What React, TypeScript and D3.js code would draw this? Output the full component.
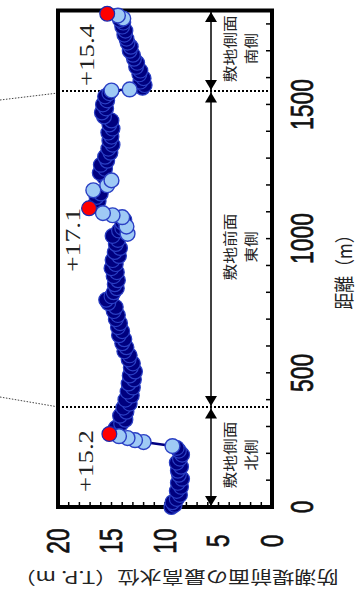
import React from 'react';
import * as d3 from 'd3';

const W = 356;
const H = 595;

// Distance along the seawall (m) and max water level (T.P. m) – main (navy) markers
const navyDist = [
  0, 8, 18, 30, 45, 60, 75, 90, 105, 120, 135, 150, 165, 180, 195, 210, 220,
  282, 295, 310, 325, 340, 355, 370, 385, 400, 415, 430, 445, 460, 475, 490, 505, 520, 535, 550,
  565, 580, 595, 610, 625, 640, 655, 670, 685, 700, 715, 730, 745, 760, 772, 785, 800, 815, 830,
  845, 860, 875, 890, 905, 920, 935, 950, 965, 980, 995, 1010, 1030, 1040, 1060, 1070,
  1125, 1140, 1155, 1168, 1230, 1245, 1260, 1275, 1290, 1305, 1320, 1335, 1350, 1365, 1380, 1395,
  1410, 1425, 1440, 1455, 1470, 1485, 1500, 1515, 1530, 1542,
  1562, 1572, 1585, 1598, 1612, 1626, 1640, 1655, 1670, 1685, 1700, 1715, 1730, 1745, 1760, 1775,
  1790, 1805, 1815,
];
const navyLevel = [
  9.4, 9.1, 9.3, 8.9, 8.6, 8.9, 8.5, 8.8, 8.4, 8.7, 8.8, 8.5, 8.9, 8.6, 8.4, 8.7, 8.9,
  14.8, 14.6, 14.1, 13.7, 14.2, 13.6, 13.9, 13.3, 13.7, 13.1, 13.5, 13.0, 13.4, 12.9, 13.3, 12.8, 13.2, 13.0, 13.4,
  13.3, 13.8, 13.6, 14.0, 13.8, 14.3, 14.0, 14.4, 14.2, 14.6, 14.4, 14.8, 14.6, 15.3, 15.5, 15.0, 14.8, 14.5, 14.7,
  14.4, 14.8, 14.5, 15.0, 14.6, 14.9, 14.3, 14.7, 14.2, 14.6, 14.4, 14.9, 14.3, 14.0, 14.0, 13.8,
  16.6, 16.2, 16.4, 16.0, 15.7, 16.1, 15.6, 16.0, 15.4, 15.6, 15.1, 15.3, 14.9, 15.2, 15.0, 15.3,
  14.9, 15.2, 15.0, 15.7, 15.9, 15.5, 15.8, 15.4, 15.6, 15.2,
  12.1, 11.9, 12.3, 12.0, 12.4, 12.3, 12.7, 12.6, 12.9, 13.0, 13.3, 13.2, 13.5, 13.6, 13.8, 13.7,
  14.0, 13.9, 14.2,
];

// Light-blue markers
const lightDist = [227, 242, 249, 257, 264, 1018, 1045, 1080, 1087, 1095, 1180, 1199, 1217, 1552, 1556, 1820, 1831];
const lightLevel = [9.3, 12.0, 12.8, 13.5, 14.3, 13.5, 13.6, 14.0, 14.9, 15.8, 16.7, 15.4, 15.0, 15.0, 13.3, 13.9, 14.4];

// Maximum points (red)
const maxDist = [272, 1113, 1838];
const maxLevel = [15.2, 17.1, 15.4];
const maxLabels = ['+15.2', '+17.1', '+15.4'];

// Zones
const zoneBounds = [0, 373, 1550, 1850];
const zoneLine1 = ['敷地側面', '敷地前面', '敷地側面'];
const zoneLine2 = ['北側', '東側', '南側'];

// Axes
const distTicks = [0, 500, 1000, 1500];
const distMinor = d3.range(100, 1900, 100);
const levelTicks = [0, 5, 10, 15, 20];
const levelMinor = d3.range(1, 20, 1);

export default function App() {
  const y = d3.scaleLinear().domain([0, 1850]).range([507, 10.5]);
  const x = d3.scaleLinear().domain([0, 20]).range([272, 58]);

  type P = { d: number; v: number; k: string };
  const pts: P[] = [
    ...navyDist.map((d, i) => ({ d, v: navyLevel[i], k: 'n' })),
    ...lightDist.map((d, i) => ({ d, v: lightLevel[i], k: 'l' })),
    ...maxDist.map((d, i) => ({ d, v: maxLevel[i], k: 'r' })),
  ].sort((a, b) => a.d - b.d);

  const line = d3
    .line<P>()
    .x((p) => x(p.v))
    .y((p) => y(p.d));

  const fL = x(20);
  const fR = x(0);
  const fT = y(1850);
  const fB = y(0);
  const arrowX = 211;
  const R = 7.4;

  const labelPos = [
    { x: 86, y: 461, len: 62 },
    { x: 73, y: 240, len: 64 },
    { x: 87, y: 55, len: 62 },
  ];

  const arrowHead = (tipY: number, dir: number) => {
    const base = tipY - dir * 10;
    return `M${arrowX},${tipY} L${arrowX - 6},${base} L${arrowX + 6},${base} Z`;
  };

  const numFont = 'Liberation Sans, Arial, sans-serif';
  const cjk = 'Noto Sans CJK JP, sans-serif';

  return (
    <svg
      width={W}
      height={H}
      viewBox={`0 0 ${W} ${H}`}
      style={{ position: 'absolute', left: 0, top: 0, background: '#fff' }}
    >
      <rect x={0} y={0} width={W} height={H} fill="#fff" />

      {/* connector dotted lines to outside */}
      <line x1={0} y1={100} x2={fL} y2={y(1550) + 2} stroke="#444" strokeWidth={1} strokeDasharray="1.5,1.5" />
      <line x1={0} y1={397} x2={fL} y2={y(373)} stroke="#444" strokeWidth={1} strokeDasharray="1.5,1.5" />

      {/* zone boundaries */}
      {zoneBounds.slice(1, 3).map((b) => (
        <line key={b} x1={fL} x2={fR} y1={y(b)} y2={y(b)} stroke="#000" strokeWidth={2} strokeDasharray="2,2" />
      ))}

      {/* arrows */}
      <line x1={arrowX} x2={arrowX} y1={fT} y2={fB} stroke="#000" strokeWidth={1.5} />
      {zoneBounds.slice(0, 3).map((b, i) => {
        const lo = y(b);
        const hi = y(zoneBounds[i + 1]);
        return (
          <g key={'a' + i}>
            <path d={arrowHead(lo - 1, 1)} fill="#000" />
            <path d={arrowHead(hi + 1.5, -1)} fill="#000" />
          </g>
        );
      })}

      {/* zone labels */}
      {zoneLine1.map((t, i) => {
        const cy = (y(zoneBounds[i]) + y(zoneBounds[i + 1])) / 2 - 2;
        return (
          <g key={'z' + i} fontFamily={cjk} fill="#222">
            <text
              transform={`translate(228.5,${cy}) rotate(-90)`}
              textAnchor="middle"
              dominantBaseline="central"
              fontSize={14}
              textLength={67}
              lengthAdjust="spacingAndGlyphs"
            >
              {t}
            </text>
            <text
              transform={`translate(250,${cy}) rotate(-90)`}
              textAnchor="middle"
              dominantBaseline="central"
              fontSize={14}
              textLength={31}
              lengthAdjust="spacingAndGlyphs"
            >
              {zoneLine2[i]}
            </text>
          </g>
        );
      })}

      {/* ticks */}
      {distMinor.map((t) => (
        <line key={'dt' + t} x1={fR} x2={fR - 6} y1={y(t)} y2={y(t)} stroke="#000" strokeWidth={1.5} />
      ))}
      {levelMinor.map((t) => (
        <line key={'lt' + t} x1={x(t)} x2={x(t)} y1={fB} y2={fB - 5} stroke="#000" strokeWidth={1.5} />
      ))}

      {/* frame */}
      <rect x={fL} y={fT} width={fR - fL} height={fB - fT} fill="none" stroke="#000" strokeWidth={4} />

      {/* series line */}
      <path d={line(pts) || ''} fill="none" stroke="#000080" strokeWidth={2.5} />

      {/* markers */}
      {pts
        .filter((p) => p.k === 'n')
        .map((p, i) => (
          <circle key={'n' + i} cx={x(p.v)} cy={y(p.d)} r={R} fill="#00007f" stroke="#2a3fc4" strokeWidth={1.2} />
        ))}
      {pts
        .filter((p) => p.k === 'l')
        .map((p, i) => (
          <circle key={'l' + i} cx={x(p.v)} cy={y(p.d)} r={R} fill="#9fcaf5" stroke="#2a3fc4" strokeWidth={1.4} />
        ))}
      {pts
        .filter((p) => p.k === 'r')
        .map((p, i) => (
          <circle key={'r' + i} cx={x(p.v)} cy={y(p.d)} r={R} fill="#ff0000" stroke="#1a2ab0" strokeWidth={1.2} />
        ))}

      {/* max labels */}
      {maxLabels.map((t, i) => (
        <text
          key={'m' + i}
          transform={`translate(${labelPos[i].x},${labelPos[i].y}) rotate(-90)`}
          textAnchor="middle"
          dominantBaseline="central"
          fontFamily="Liberation Serif, DejaVu Serif, serif"
          fontSize={21}
          textLength={labelPos[i].len}
          lengthAdjust="spacingAndGlyphs"
          fill="#222"
        >
          {t}
        </text>
      ))}

      {/* distance tick labels */}
      {distTicks.map((t) => (
        <text
          key={'dl' + t}
          transform={`translate(302,${y(t)}) rotate(-90) scale(0.74,1)`}
          textAnchor="middle"
          dominantBaseline="central"
          fontSize={31}
          fontFamily={numFont}
          fill="#111"
          stroke="#111"
          strokeWidth={0.7}
        >
          {t}
        </text>
      ))}

      {/* level tick labels */}
      {levelTicks.map((t) => (
        <text
          key={'ll' + t}
          transform={`translate(${x(t)},541) rotate(-90) scale(0.74,1)`}
          textAnchor="middle"
          dominantBaseline="central"
          fontSize={31}
          fontFamily={numFont}
          fill="#111"
          stroke="#111"
          strokeWidth={0.7}
        >
          {t}
        </text>
      ))}

      {/* axis titles */}
      <text
        transform={`translate(343,268) rotate(-90)`}
        textAnchor="middle"
        dominantBaseline="central"
        fontFamily={cjk}
        fontSize={20}
        textLength={83}
        lengthAdjust="spacingAndGlyphs"
        fill="#222"
      >
        距離（m）
      </text>
      <text
        transform={`translate(176,578) rotate(180)`}
        textAnchor="middle"
        dominantBaseline="central"
        fontFamily={cjk}
        fontSize={17}
        textLength={325}
        lengthAdjust="spacingAndGlyphs"
        fill="#222"
      >
        防潮堤前面の最高水位（T.P. m）
      </text>
    </svg>
  );
}
